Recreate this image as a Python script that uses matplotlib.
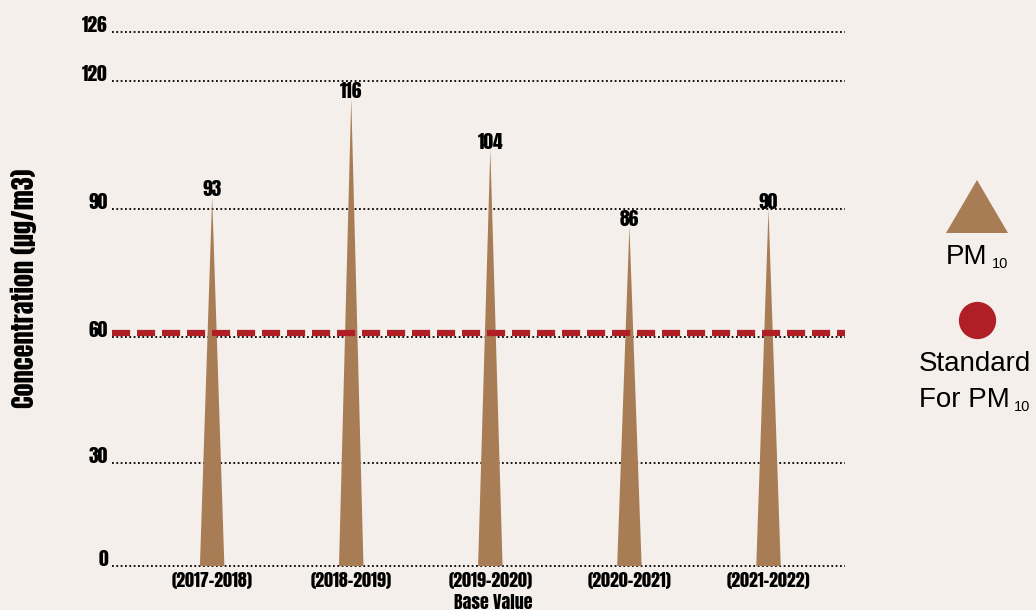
import numpy as np
import matplotlib
matplotlib.use('Agg')
import matplotlib.pyplot as plt
from matplotlib.transforms import ScaledTranslation

# ==========================================
# Daten
# ==========================================
perioden = ['(2017-2018)', '(2018-2019)', '(2019-2020)', '(2020-2021)', '(2021-2022)']
pm10 = [93, 116, 104, 86, 90]
standard_pm10 = 60

y_ticks = [0, 30, 60, 90, 120, 126]
# the original axis is not linear: pixel height of each tick above the 0 line
y_tick_px = [0, 103, 229, 356, 484, 533]

BG = '#f4efea'
BRAUN = '#a87c54'
ROT = '#b01f26'
COND = dict(family=['Anton', 'Oswald', 'Barlow Condensed', 'DejaVu Sans'])


def vorwaerts(v):
    return np.interp(v, y_ticks, y_tick_px)


def rueckwaerts(p):
    return np.interp(p, y_tick_px, y_ticks)


fig = plt.figure(figsize=(10.36, 6.10), dpi=100, facecolor=BG)
ax = fig.add_axes([112 / 1036, 44 / 610, 733 / 1036, 534 / 610])
ax.set_facecolor(BG)
ax.set_yscale('function', functions=(vorwaerts, rueckwaerts))
ax.set_ylim(0, 126)
ax.set_xlim(-0.72, 4.55)

for s in ax.spines.values():
    s.set_visible(False)

# gepunktete Hilfslinien
for t in y_ticks:
    ax.axhline(t, color='black', linewidth=1.3, linestyle=(0, (1, 1.4)),
               clip_on=False, zorder=1)

# Spitzen (Dreiecke)
x = np.arange(len(perioden))
halb = 0.088
for xi, v in zip(x, pm10):
    ax.fill([xi - halb, xi, xi + halb], [0, v, 0], color=BRAUN, lw=0, zorder=2)
    ax.annotate(str(v), (xi, v), xytext=(0, -1), textcoords='offset points',
                ha='center', va='bottom', fontsize=14, zorder=4, **COND)

# Grenzwert
ax.axhline(standard_pm10, color=ROT, linewidth=4.5, linestyle=(0, (2.9, 1.1)),
           dash_capstyle='butt', zorder=3, clip_on=False)
# red line sits a few px above the 60 grid line
ax.lines[-1].set_transform(ax.get_yaxis_transform() +
                           ScaledTranslation(0, 0.035, fig.dpi_scale_trans))

ax.set_yticks(y_ticks)
ax.set_yticklabels([str(t) for t in y_ticks], fontsize=14, **COND)
plt.setp(ax.get_yticklabels(), va='baseline')
ax.tick_params(axis='y', length=0, pad=3)

ax.set_xticks(x)
ax.set_xticklabels(perioden, fontsize=13, **COND)
ax.tick_params(axis='x', length=0, pad=4)

ax.set_ylabel('Concentration (µg/m3)', fontsize=19, labelpad=0, **COND)
ax.yaxis.set_label_coords(-0.102, 0.52)

ax.text(2.02, -0.052, 'Base Value', transform=ax.get_xaxis_transform(),
        ha='center', va='top', fontsize=13, **COND)

# Legende rechts (Pixelkoordinaten)
lax = fig.add_axes([900 / 1036, 0, 136 / 1036, 1])
lax.set_xlim(900, 1036)
lax.set_ylim(610, 0)
lax.axis('off')
lax.fill([946, 977, 1008], [233, 180, 233], color=BRAUN, lw=0)
pm = lax.text(946, 264, 'PM', ha='left', va='baseline', fontsize=20,
              family='Liberation Sans')
lax.annotate('10', xy=(1, 0), xycoords=pm, xytext=(3, -1),
             textcoords='offset points', ha='left', va='bottom',
             fontsize=10.5, family='Liberation Sans')
lax.scatter([977], [320], s=720, color=ROT, lw=0)
lax.text(919, 371, 'Standard', ha='left', va='baseline', fontsize=20,
         family='Liberation Sans')
fuer = lax.text(919, 407, 'For PM', ha='left', va='baseline', fontsize=20,
                family='Liberation Sans')
lax.annotate('10', xy=(1, 0), xycoords=fuer, xytext=(3, -1),
             textcoords='offset points', ha='left', va='bottom',
             fontsize=10.5, family='Liberation Sans')

fig.savefig('out.png', dpi=100, facecolor=BG)
